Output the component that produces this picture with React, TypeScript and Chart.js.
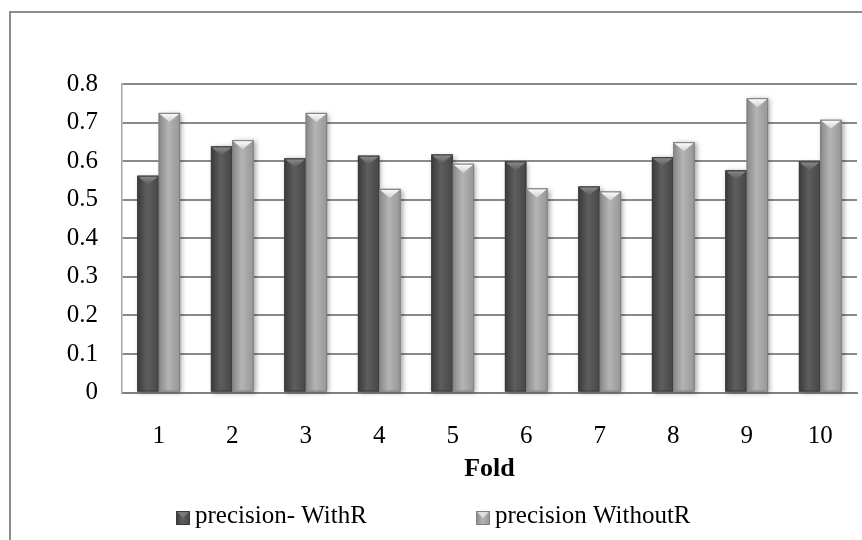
import React, { useEffect, useRef } from 'react';
import { Chart, registerables } from 'chart.js';

Chart.register(...registerables);

// ---- data ----
const folds = ['1', '2', '3', '4', '5', '6', '7', '8', '9', '10'];
const precisionWithR = [0.562, 0.638, 0.607, 0.614, 0.617, 0.599, 0.534, 0.610, 0.576, 0.599];
const precisionWithoutR = [0.725, 0.654, 0.725, 0.528, 0.593, 0.529, 0.521, 0.649, 0.763, 0.707];
const seriesNames = ['precision- WithR', 'precision WithoutR'];
const yTickValues = [0, 0.1, 0.2, 0.3, 0.4, 0.5, 0.6, 0.7, 0.8];
const xAxisTitle = 'Fold';

// ---- styles ----
const FONT = '"Liberation Serif", "Times New Roman", Times, serif';
const palettes = [
  { base: '#505050', edge: '#3a3a3a', mid: '#5e5e5e', right: '#464646', border: '#3c3c3c', capTop: '#8e8e8e', capBottom: '#5a5a5a' },
  { base: '#a4a4a4', edge: '#878787', mid: '#b4b4b4', right: '#969696', border: '#808080', capTop: '#ffffff', capBottom: '#d0d0d0' },
];

const framePlugin = {
  id: 'frame',
  beforeDraw(chart: any) {
    const ctx = chart.ctx;
    ctx.save();
    ctx.fillStyle = '#ffffff';
    ctx.fillRect(0, 0, chart.width, chart.height);
    ctx.strokeStyle = '#8c8c8c';
    ctx.lineWidth = 2;
    ctx.strokeRect(10, 12, chart.width + 40, chart.height + 40);
    ctx.restore();
  },
};

const bevelPlugin = {
  id: 'bevel',
  beforeDatasetsDraw(chart: any) {
    const ctx = chart.ctx;
    ctx.save();
    chart.data.datasets.forEach((_: any, di: number) => {
      const meta = chart.getDatasetMeta(di);
      meta.data.forEach((el: any) => {
        const { x, y, base, width } = el.getProps(['x', 'y', 'base', 'width'], true);
        ctx.shadowColor = 'rgba(0,0,0,0.35)';
        ctx.shadowBlur = 5;
        ctx.shadowOffsetX = 2;
        ctx.shadowOffsetY = 1;
        ctx.fillStyle = '#777';
        ctx.fillRect(x - width / 2, y, width, base - y);
      });
    });
    ctx.restore();
  },
  afterDatasetsDraw(chart: any) {
    const ctx = chart.ctx;
    ctx.save();
    chart.data.datasets.forEach((_: any, di: number) => {
      const meta = chart.getDatasetMeta(di);
      const pal = palettes[di];
      meta.data.forEach((el: any) => {
        const { x, y, base, width } = el.getProps(['x', 'y', 'base', 'width'], true);
        const l = x - width / 2;
        const r = x + width / 2;
        const g = ctx.createLinearGradient(l, 0, r, 0);
        g.addColorStop(0, pal.edge);
        g.addColorStop(0.45, pal.mid);
        g.addColorStop(1, pal.right);
        ctx.fillStyle = g;
        ctx.fillRect(l, y, width, base - y);
        ctx.strokeStyle = pal.border;
        ctx.lineWidth = 1;
        ctx.strokeRect(l + 0.5, y + 0.5, width - 1, base - y - 1);
        const h = Math.min(9, base - y);
        ctx.beginPath();
        ctx.moveTo(l + 1, y + 1);
        ctx.lineTo(r - 1, y + 1);
        ctx.lineTo(x, y + h);
        ctx.closePath();
        const cg = ctx.createLinearGradient(0, y, 0, y + h);
        cg.addColorStop(0, pal.capTop);
        cg.addColorStop(1, pal.capBottom);
        ctx.fillStyle = cg;
        ctx.fill();
      });
    });
    ctx.restore();
  },
};

const legendPlugin = {
  id: 'bottomLegend',
  afterDraw(chart: any) {
    const ctx = chart.ctx;
    ctx.save();
    ctx.font = `25px ${FONT}`;
    const box = 14;
    const gapText = 5;
    const cx = chart.width / 2;
    const starts = [cx - 255, cx + 45];
    const cy = 518;
    chart.data.datasets.forEach((d: any, i: number) => {
      const pal = palettes[i];
      const x = starts[i];
      const g = ctx.createLinearGradient(x, 0, x + box, 0);
      g.addColorStop(0, pal.edge);
      g.addColorStop(0.45, pal.mid);
      g.addColorStop(1, pal.right);
      ctx.fillStyle = g;
      ctx.fillRect(x, cy - box / 2, box, box);
      ctx.beginPath();
      ctx.moveTo(x + 1, cy - box / 2 + 1);
      ctx.lineTo(x + box - 1, cy - box / 2 + 1);
      ctx.lineTo(x + box / 2, cy);
      ctx.closePath();
      ctx.fillStyle = pal.capTop;
      ctx.globalAlpha = 0.6;
      ctx.fill();
      ctx.globalAlpha = 1;
      ctx.strokeStyle = pal.border;
      ctx.lineWidth = 1;
      ctx.strokeRect(x + 0.5, cy - box / 2 + 0.5, box - 1, box - 1);
      ctx.fillStyle = '#000';
      ctx.textBaseline = 'alphabetic';
      ctx.textAlign = 'left';
      ctx.fillText(d.label, x + box + gapText, 523);
    });
    ctx.restore();
  },
};

export default function App() {
  const canvasRef = useRef<HTMLCanvasElement | null>(null);

  useEffect(() => {
    document.body.style.margin = '0';
    const canvas = canvasRef.current;
    if (!canvas) return;
    const chart = new Chart(canvas, {
      type: 'bar',
      data: {
        labels: folds,
        datasets: [
          { label: seriesNames[0], data: precisionWithR, backgroundColor: palettes[0].base, borderWidth: 0 },
          { label: seriesNames[1], data: precisionWithoutR, backgroundColor: palettes[1].base, borderWidth: 0 },
        ],
      },
      options: {
        responsive: false,
        animation: false,
        devicePixelRatio: 1,
        layout: { padding: { top: 84, right: 5, bottom: 47.5, left: 0 } },
        datasets: { bar: { categoryPercentage: 0.58, barPercentage: 1 } },
        plugins: {
          legend: { display: false },
          tooltip: { enabled: false },
          title: { display: false },
        },
        scales: {
          x: {
            grid: { display: false, drawTicks: false },
            border: { display: true, color: '#808080', width: 2 },
            ticks: { color: '#000', font: { family: FONT, size: 25 }, padding: 29 },
            title: {
              display: true,
              text: xAxisTitle,
              color: '#000',
              font: { family: FONT, size: 26, weight: 'bold' },
              padding: { top: 0, bottom: 8 },
            },
            afterFit: (scale: any) => { scale.height = 100; },
          },
          y: {
            min: 0,
            max: 0.8,
            afterBuildTicks: (scale: any) => { scale.ticks = yTickValues.map((v) => ({ value: v })); },
            grid: { color: '#8a8a8a', lineWidth: 2, drawTicks: false },
            border: { display: true, color: '#a6a6a6', width: 1.5 },
            ticks: {
              color: '#000',
              font: { family: FONT, size: 25 },
              padding: 24,
              callback: (v: any) => (Number(v) === 0 ? '0' : Number(v).toFixed(1)),
            },
            afterFit: (scale: any) => { scale.width = 122; },
          },
        },
      },
      plugins: [framePlugin, bevelPlugin, legendPlugin],
    } as any);
    return () => chart.destroy();
  }, []);

  return (
    <div style={{ width: 862, height: 540 }}>
      <canvas ref={canvasRef} width={862} height={540} style={{ display: 'block' }} />
    </div>
  );
}
